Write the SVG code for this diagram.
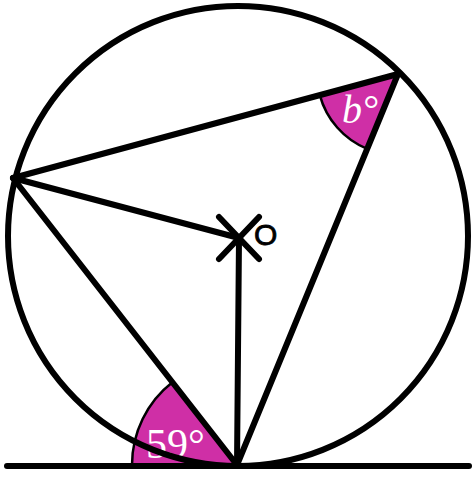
<svg xmlns="http://www.w3.org/2000/svg" width="476" height="478" viewBox="0 0 476 478">
<style>
.ln{stroke:#000;stroke-width:6;fill:none;stroke-linecap:round}
.ang{fill:#cf2fa6;stroke:#000;stroke-width:2.5}
.lbl{fill:#fff;font-family:"Liberation Serif",serif}
</style>
<rect width="476" height="478" fill="#fff"/>
<g id="angle-59">
<path class="ang" d="M237,465 L132,465 A105,105 0 0 1 172.4,382.2 Z"/>
<text class="lbl" x="146" y="458" font-size="42">59°</text>
</g>
<g id="angle-b">
<path class="ang" d="M398,74 L319.8,95.1 A81,81 0 0 0 367.2,148.9 Z"/>
<text class="lbl" x="342" y="123" font-size="40" font-style="italic">b°</text>
</g>
<g id="circle"><circle class="ln" cx="238" cy="236" r="230" stroke-width="5"/></g>
<g id="connectors">
<line class="ln" x1="13" y1="178" x2="398" y2="74"/>
<line class="ln" x1="13" y1="178" x2="237" y2="465"/>
<line class="ln" x1="398" y1="74" x2="237" y2="465"/>
<line class="ln" x1="13" y1="178" x2="239" y2="238"/>
<line class="ln" x1="239" y1="238" x2="237" y2="465"/>
<line class="ln" x1="7" y1="466" x2="469" y2="466" stroke-linecap="butt" stroke-width="7"/>
</g>
<g id="centre-O">
<line class="ln" x1="219" y1="217" x2="259" y2="259" stroke-width="4"/>
<line class="ln" x1="259" y1="217" x2="219" y2="259" stroke-width="4"/>
<text x="254" y="245" font-size="30" font-family="Liberation Sans,sans-serif" stroke="#000" stroke-width="0.8">O</text>
</g>
</svg>
